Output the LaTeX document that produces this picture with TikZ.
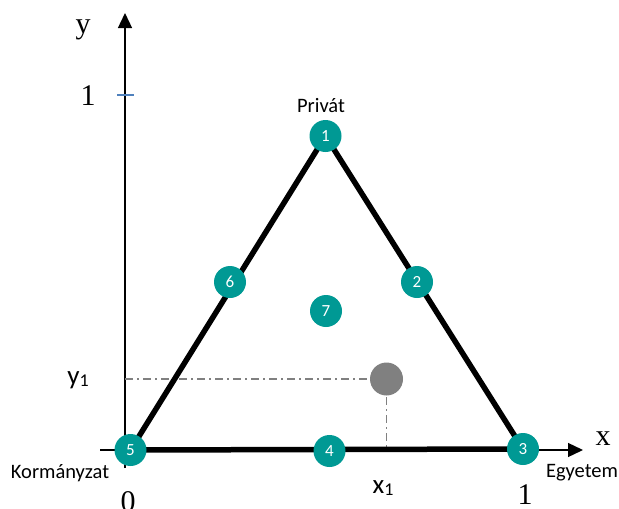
\documentclass[tikz,border=0pt]{standalone}
\usepackage{fontspec}
\setmainfont{Liberation Serif}
\newfontfamily\calib{Carlito}
\usetikzlibrary{arrows.meta,backgrounds}
\definecolor{tealc}{RGB}{0,153,148}
\definecolor{tickblue}{RGB}{79,129,189}
\tikzset{
  num/.style={circle,fill=tealc,minimum size=32pt,inner sep=0pt,text=white,font=\calib\fontsize{17}{17}\selectfont},
  lab/.style={font=\calib\fontsize{20.5}{24}\selectfont,inner sep=0pt,anchor=base},
  serif/.style={font=\fontsize{30}{34}\selectfont,inner sep=0pt,anchor=base},
  sub/.style={font=\calib\fontsize{27}{30}\selectfont,inner sep=0pt,anchor=base},
  axis/.style={line width=1.3pt,-{Triangle[length=15pt,width=14pt]}},
  side/.style={line width=5.5pt},
  guide/.style={gray,line width=1.2pt,dash pattern=on 8pt off 4pt on 2pt off 4pt}
}
\begin{document}
\begin{tikzpicture}[x=1pt,y=-1pt]
\useasboundingbox (0,0) rectangle (619,509);
% nodes
\node[num] (n1) at (325.5,136) {1};
\node[num] (n2) at (417,282) {2};
\node[num] (n3) at (523,449) {3};
\node[num] (n4) at (329.5,451) {4};
\node[num] (n5) at (130.5,450) {5};
\node[num] (n6) at (230,282) {6};
\node[num] (n7) at (326,311) {7};
\node[circle,fill=gray,minimum size=33pt,inner sep=0pt] (p) at (386.5,379) {};
\coordinate (yb) at (125,468);
\coordinate (yt) at (125,13);
\coordinate (xl) at (100,450);
\coordinate (xr) at (583,450);
\coordinate (yp) at (125,379);
\coordinate (xp) at (386.5,450);
\coordinate (tl) at (117,95);
\coordinate (tr) at (134,95);
\begin{scope}[on background layer]
\draw[axis] (yb) -- (yt);
\draw[axis] (xl) -- (xr);
\draw[tickblue,line width=1.5pt] (tl) -- (tr);
\draw[guide] (yp) -- (p.center);
\draw[guide] (p.center) -- (xp);
\draw[side,line join=round] (n5.center) -- (n1.center) -- (n3.center) -- cycle;
\end{scope}
% labels
\node[serif] (ly) at (83,33) {y};
\node[serif] (l1y) at (88,105) {1};
\node[serif] (l0) at (128,511) {0};
\node[serif] (l1x) at (525,504) {1};
\node[serif] (lx) at (603,445) {x};
\node[lab] (priv) at (321,112) {Privát};
\node[lab] (korm) at (60,478) {Kormányzat};
\node[lab] (egy) at (582,477) {Egyetem};
\node[sub] (y1) at (78,384) {y\raisebox{-2pt}{\fontsize{18}{18}\selectfont 1}};
\node[sub] (x1) at (383,493) {x\raisebox{-2pt}{\fontsize{18}{18}\selectfont 1}};
\end{tikzpicture}
\end{document}
